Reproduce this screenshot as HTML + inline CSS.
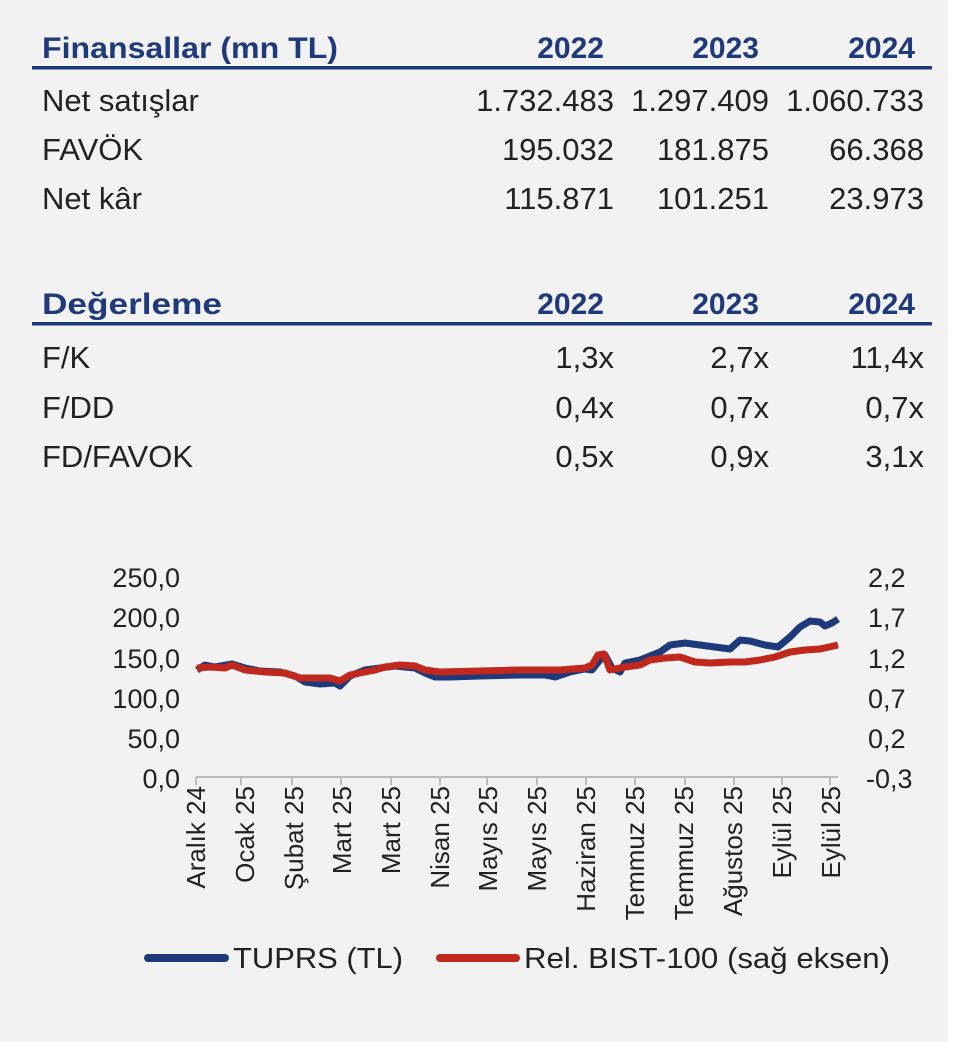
<!DOCTYPE html>
<html><head><meta charset="utf-8"><style>
body{margin:0;background:#fff}
svg{display:block}
</style></head><body>
<svg width="960" height="1042" xmlns="http://www.w3.org/2000/svg" font-family="Liberation Sans, DejaVu Sans, sans-serif">
<rect x="0" y="0" width="948" height="1042" fill="#f2f2f2"/>
<g font-size="30" fill="#1f3a7a" font-weight="bold">
<text x="42" y="58" textLength="296" lengthAdjust="spacingAndGlyphs">Finansallar (mn TL)</text>
<text x="604" y="58" text-anchor="end">2022</text>
<text x="759" y="58" text-anchor="end">2023</text>
<text x="915" y="58" text-anchor="end">2024</text>
<text x="42" y="314" textLength="180" lengthAdjust="spacingAndGlyphs">Değerleme</text>
<text x="604" y="314" text-anchor="end">2022</text>
<text x="759" y="314" text-anchor="end">2023</text>
<text x="915" y="314" text-anchor="end">2024</text>
</g>
<rect x="32" y="66" width="900" height="3.5" fill="#1f3a7a"/>
<rect x="32" y="322" width="900" height="3.5" fill="#1f3a7a"/>
<g font-size="31" fill="#222">
<text x="42" y="111">Net satışlar</text>
<text x="614" y="111" text-anchor="end">1.732.483</text>
<text x="769" y="111" text-anchor="end">1.297.409</text>
<text x="924" y="111" text-anchor="end">1.060.733</text>
<text x="42" y="160">FAVÖK</text>
<text x="614" y="160" text-anchor="end">195.032</text>
<text x="769" y="160" text-anchor="end">181.875</text>
<text x="924" y="160" text-anchor="end">66.368</text>
<text x="42" y="209">Net kâr</text>
<text x="614" y="209" text-anchor="end">115.871</text>
<text x="769" y="209" text-anchor="end">101.251</text>
<text x="924" y="209" text-anchor="end">23.973</text>
<text x="42" y="368">F/K</text>
<text x="614" y="368" text-anchor="end">1,3x</text>
<text x="769" y="368" text-anchor="end">2,7x</text>
<text x="924" y="368" text-anchor="end">11,4x</text>
<text x="42" y="418">F/DD</text>
<text x="614" y="418" text-anchor="end">0,4x</text>
<text x="769" y="418" text-anchor="end">0,7x</text>
<text x="924" y="418" text-anchor="end">0,7x</text>
<text x="42" y="467">FD/FAVOK</text>
<text x="614" y="467" text-anchor="end">0,5x</text>
<text x="769" y="467" text-anchor="end">0,9x</text>
<text x="924" y="467" text-anchor="end">3,1x</text>
</g>
<g font-size="27" fill="#222">
<text x="180" y="587" text-anchor="end">250,0</text>
<text x="180" y="627" text-anchor="end">200,0</text>
<text x="180" y="668" text-anchor="end">150,0</text>
<text x="180" y="708" text-anchor="end">100,0</text>
<text x="180" y="748" text-anchor="end">50,0</text>
<text x="180" y="788" text-anchor="end">0,0</text>
<text x="868" y="587">2,2</text>
<text x="868" y="627">1,7</text>
<text x="868" y="668">1,2</text>
<text x="868" y="708">0,7</text>
<text x="868" y="748">0,2</text>
<text x="866" y="788">-0,3</text>
</g>
<line x1="196" y1="777" x2="838" y2="777" stroke="#bbb" stroke-width="2"/>
<g stroke="#bbb" stroke-width="2">
<line x1="196" y1="777" x2="196" y2="785"/><line x1="241" y1="777" x2="241" y2="785"/><line x1="292" y1="777" x2="292" y2="785"/><line x1="341" y1="777" x2="341" y2="785"/><line x1="391" y1="777" x2="391" y2="785"/><line x1="440" y1="777" x2="440" y2="785"/><line x1="487" y1="777" x2="487" y2="785"/><line x1="537" y1="777" x2="537" y2="785"/><line x1="586" y1="777" x2="586" y2="785"/><line x1="635" y1="777" x2="635" y2="785"/><line x1="685" y1="777" x2="685" y2="785"/><line x1="734" y1="777" x2="734" y2="785"/><line x1="782" y1="777" x2="782" y2="785"/><line x1="830" y1="777" x2="830" y2="785"/>
</g>
<g font-size="26" fill="#222">
<text transform="translate(205,786) rotate(-90)" text-anchor="end">Aralık 24</text>
<text transform="translate(254,786) rotate(-90)" text-anchor="end">Ocak 25</text>
<text transform="translate(303,786) rotate(-90)" text-anchor="end">Şubat 25</text>
<text transform="translate(351,786) rotate(-90)" text-anchor="end">Mart 25</text>
<text transform="translate(400,786) rotate(-90)" text-anchor="end">Mart 25</text>
<text transform="translate(449,786) rotate(-90)" text-anchor="end">Nisan 25</text>
<text transform="translate(497,786) rotate(-90)" text-anchor="end">Mayıs 25</text>
<text transform="translate(546,786) rotate(-90)" text-anchor="end">Mayıs 25</text>
<text transform="translate(595,786) rotate(-90)" text-anchor="end">Haziran 25</text>
<text transform="translate(644,786) rotate(-90)" text-anchor="end">Temmuz 25</text>
<text transform="translate(693,786) rotate(-90)" text-anchor="end">Temmuz 25</text>
<text transform="translate(742,786) rotate(-90)" text-anchor="end">Ağustos 25</text>
<text transform="translate(791,786) rotate(-90)" text-anchor="end">Eylül 25</text>
<text transform="translate(840,786) rotate(-90)" text-anchor="end">Eylül 25</text>
</g>
<polyline fill="none" stroke="#1f3a7a" stroke-width="7" stroke-linejoin="round" points="197,670 205,665 215,667 232,664 245,668 260,671 280,672 295,676 305,682 320,684 335,683 340,686 350,676 365,670 380,668 395,666 405,667 415,668 425,673 435,677 450,677 480,676 520,675 545,675 555,677 570,672 585,669 592,670 600,660 605,655 612,668 620,672 625,663 640,660 650,656 660,652 670,645 685,643 700,645 715,647 730,649 740,640 750,641 765,645 778,647 790,637 800,627 810,621 820,622 825,626 832,623 838,619"/>
<polyline fill="none" stroke="#c0281e" stroke-width="7" stroke-linejoin="round" points="197,668 210,667 225,668 232,665 245,670 265,672 285,673 300,678 315,678 330,678 340,681 350,675 365,672 375,670 385,667 400,665 415,666 425,670 440,672 480,671 520,670 560,670 585,668 592,665 598,655 604,654 610,670 625,667 640,665 650,660 665,658 680,657 695,662 710,663 730,662 745,662 760,660 775,657 790,652 805,650 820,649 838,645"/>
<line x1="148" y1="958" x2="225" y2="958" stroke="#1f3a7a" stroke-width="8" stroke-linecap="round"/>
<line x1="440" y1="958" x2="516" y2="958" stroke="#c0281e" stroke-width="8" stroke-linecap="round"/>
<g font-size="29" fill="#222">
<text x="233" y="968" textLength="170" lengthAdjust="spacingAndGlyphs">TUPRS (TL)</text>
<text x="524" y="968" textLength="366" lengthAdjust="spacingAndGlyphs">Rel. BIST-100 (sağ eksen)</text>
</g>
</svg>
</body></html>
